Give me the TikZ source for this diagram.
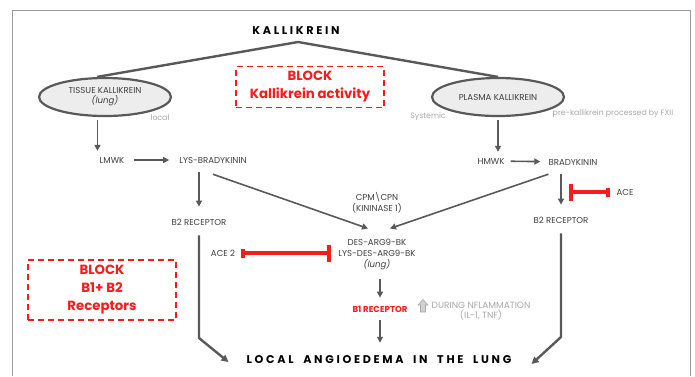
\documentclass[tikz,border=0pt]{standalone}
\usepackage{fontspec}
\setmainfont{Poppins}
\newfontfamily\spacedfont[LetterSpace=24, WordSpace=1.9]{Poppins}
\usetikzlibrary{arrows.meta,positioning,shapes.geometric}
\definecolor{linegray}{HTML}{595959}
\definecolor{txtgray}{HTML}{3F3F3F}
\definecolor{notegray}{HTML}{A8A8A8}
\definecolor{framegray}{HTML}{9A9A9A}
\definecolor{blockred}{HTML}{F41C1C}
\begin{document}
\begin{tikzpicture}[x=1pt, y=-1pt,
	every node/.style={font=\fontsize{8.6}{11}\selectfont, text=txtgray, inner sep=2pt, align=center},
	title/.style={font=\spacedfont\bfseries\fontsize{11.2}{12}\selectfont, text=black},
	enz/.style={ellipse, draw=linegray, line width=2.2pt, fill=black!7, minimum width=132, minimum height=38},
	note/.style={text=notegray, font=\fontsize{7.8}{10}\selectfont},
	blockbox/.style={draw=blockred, line width=1.3pt, dash pattern=on 6pt off 4pt, text=blockred, font=\bfseries\fontsize{13.3}{18}\selectfont},
	stem/.style={draw=linegray, line width=2.4pt},
	arr/.style={draw=linegray, line width=1.6pt, -{Triangle[length=6pt,width=6pt]}},
	bigarr/.style={draw=linegray, line width=2.4pt, -{Triangle[length=7pt,width=7pt]}, line join=round},
	inhib/.style={draw=blockred, line width=4pt, {Bar[width=9pt]}-{Bar[width=17pt]}}]

	\useasboundingbox (0,0) rectangle (695,376);
	\draw[framegray, line width=0.9pt] (12,376) -- (12,10) -- (690,10) -- (690,376);

	% top
	\node[title] (kal) at (296,31) {KALLIKREIN};
	\coordinate (apex) at (298,42);
	\node[enz] (tissue) at (105,97) {TISSUE KALLIKREIN\\[-1pt]\textit{(lung)}};
	\node[enz] (plasma) at (498,97) {PLASMA KALLIKREIN};
	\draw[stem] ([xshift=-8pt]tissue.north) -- (apex) -- (plasma.north);
	\node[note] (local) at (160,118) {local};
	\node[note] (systemic) at (428,117) {Systemic};
	\node[note] (prek) at (613,114) {pre-kallikrein processed by FXII};
	\node[blockbox, minimum width=148, minimum height=41] (blockkal) at (310,87) {BLOCK\\Kallikrein activity};

	% kinins
	\node (lmwk) at (112,160) {LMWK};
	\node (lysbk) at (213,160) {LYS-BRADYKININ};
	\node (hmwk) at (491,161) {HMWK};
	\node (bk) at (573,162) {BRADYKININ};
	\node (b2l) at (199,222) {B2 RECEPTOR};
	\node (b2r) at (561,220) {B2 RECEPTOR};
	\node (cpm) at (377,203) {CPM\textbackslash CPN\\(KININASE 1)};
	\node (des) at (377,254) {DES-ARG9-BK\\LYS-DES-ARG9-BK\\\textit{(lung)}};
	\node (ace) at (625,192) {ACE};
	\node (acetwo) at (223,253) {ACE 2};
	\node[text=blockred, font=\bfseries\fontsize{8.6}{11}\selectfont] (b1) at (380,309) {B1 RECEPTOR};
	\node[note, font=\fontsize{9}{10.5}\selectfont] (inflam) at (481,311) {DURING NFLAMMATION\\(IL-1, TNF)};
	\node[title] (angio) at (379,360) {LOCAL ANGIOEDEMA IN THE LUNG};
	\node[blockbox, minimum width=148, minimum height=60] (blockrec) at (102,290) {BLOCK\\B1+ B2\\Receptors};

	% up arrow icon
	\draw[notegray, fill=black!18, line width=0.6pt] (420.5,312) -- (420.5,305) -- (418,305) -- (423,299.5) -- (428,305) -- (425.5,305) -- (425.5,312) -- cycle;

	% connectors
	\draw[arr, shorten <=3pt, shorten >=4pt] (tissue.south -| lmwk.west) -- (lmwk.north west);
	\draw[arr, shorten <=7pt, shorten >=8pt] (lmwk) -- (lysbk);
	\draw[arr, shorten <=3pt, shorten >=4pt] (plasma.south) -- (plasma.south |- hmwk.north);
	\draw[arr, shorten <=4pt, shorten >=6pt] (hmwk) -- (bk);
	\draw[arr, shorten <=7pt, shorten >=10pt] (lysbk.south -| b2l) -- (b2l);
	\draw[arr, shorten <=7pt, shorten >=10pt] (bk.south -| b2r) -- (b2r);
	\draw[arr] ([yshift=-9pt]lysbk.south) -- ([xshift=-9pt,yshift=8pt]des.north);
	\draw[arr] ([xshift=2pt,yshift=-7pt]bk.south west) -- ([xshift=13pt,yshift=8pt]des.north);
	\draw[arr, shorten <=7pt, shorten >=6pt] (des.south -| b1) -- (b1);
	\draw[arr, shorten <=6pt, shorten >=11pt] (b1) -- (b1 |- angio.north);
	\draw[inhib, shorten <=4pt, shorten >=8pt] (ace) -- (ace -| b2r);
	\draw[inhib, shorten <=4pt, shorten >=5pt] (acetwo) -- (acetwo -| des.west);

	\coordinate (bendl) at (199,338);
	\coordinate (bendr) at (561,337);
	\draw[bigarr, shorten <=8pt] (b2l) -- (bendl) -- ([xshift=-16pt,yshift=-2pt]angio.west);
	\draw[bigarr, shorten <=8pt] (b2r) -- (bendr) -- ([xshift=18pt,yshift=-4pt]angio.east);
\end{tikzpicture}
\end{document}
